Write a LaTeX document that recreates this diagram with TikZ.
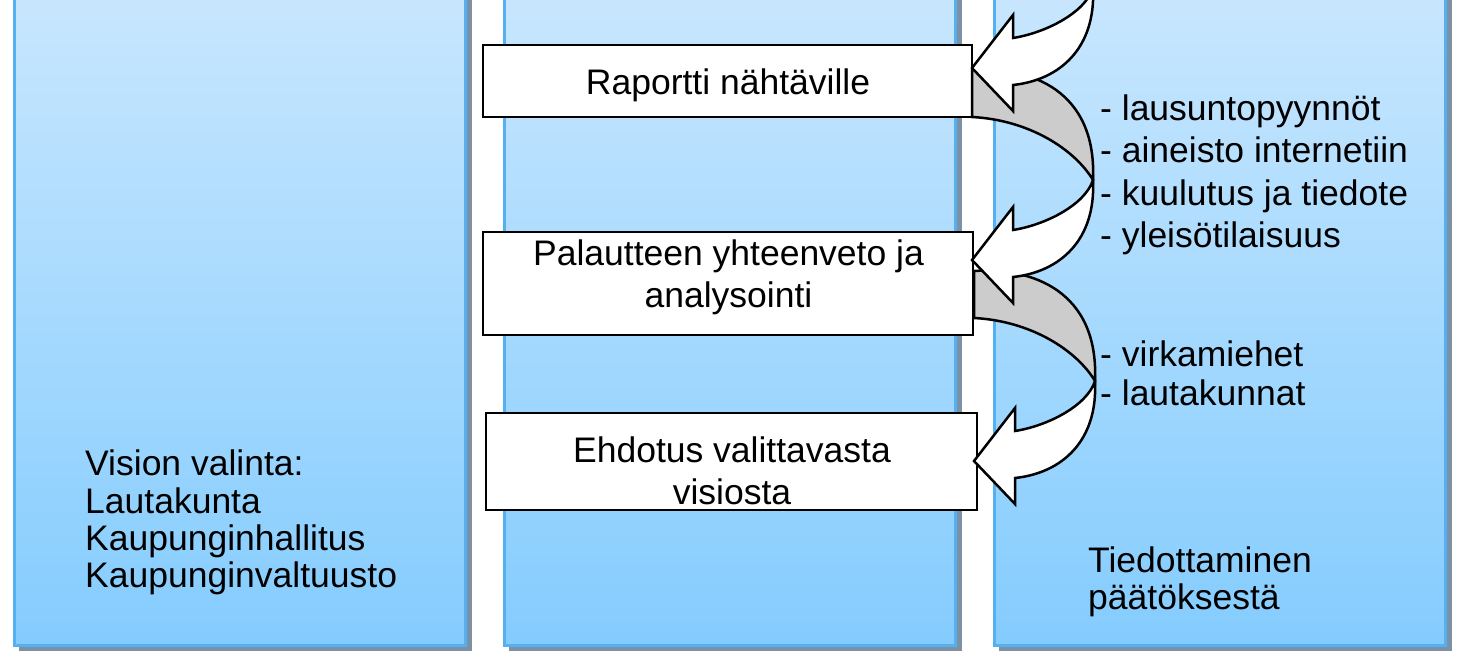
\documentclass[tikz,border=0pt]{standalone}
\usepackage{fontspec}
\setmainfont{Liberation Sans}
\definecolor{coltop}{RGB}{201,231,254}
\definecolor{colbot}{RGB}{132,204,254}
\definecolor{colborder}{RGB}{84,176,240}
\definecolor{shadowc}{RGB}{125,145,165}
\definecolor{ribgray}{RGB}{204,204,204}
\newcommand\ribback[2]{%
  \begin{scope}[shift={(#1,#2)}]
    \filldraw[rib, fill=ribgray] (972,70) .. controls (1030,66) and (1097,90) .. (1093,180)
      .. controls (1075,150) and (1030,120) .. (972,117) -- cycle;
  \end{scope}}
\newcommand\ribfront[2]{%
  \begin{scope}[shift={(#1,#2)}]
    \filldraw[rib, fill=white] (1093,180) .. controls (1096,240) and (1060,272) .. (1013,277)
      -- (1013,303) -- (972,260) -- (1013,207) -- (1013,230)
      .. controls (1045,225) and (1085,205) .. (1093,180) -- cycle;
  \end{scope}}
\begin{document}
\begin{tikzpicture}[x=1pt,y=-1pt,
  column/.style={draw=colborder, line width=3pt, top color=coltop, bottom color=colbot,
    minimum width=451pt, minimum height=662pt, inner sep=0pt},
  stepbox/.style={draw=black, fill=white, line width=2.5pt, inner sep=0pt},
  txt/.style={anchor=base west, inner sep=0pt, font=\fontsize{35.5}{42.6}\selectfont},
  ctxt/.style={anchor=base, inner sep=0pt, font=\fontsize{35.5}{42.6}\selectfont},
  rib/.style={draw=black, line width=2.5pt, line join=miter}]
\useasboundingbox (0,0) rectangle (1458,663);
\clip (0,0) rectangle (1458,663);
\fill[white] (0,0) rectangle (1458,663);
% shadows
\fill[shadowc] (19,-20) rectangle (472,651);
\fill[shadowc] (509,-20) rectangle (962,651);
\fill[shadowc] (999,-20) rectangle (1452,651);
% columns
\node[column] (c1) at (239.5,314) {};
\node[column] (c2) at (729.5,314) {};
\node[column] (c3) at (1219.5,314) {};
% boxes
\node[stepbox, minimum width=489pt, minimum height=72pt] (b1) at (727.5,81) {};
\node[stepbox, minimum width=490pt, minimum height=103pt] (b2) at (728,283.5) {};
\node[stepbox, minimum width=491pt, minimum height=97pt] (b3) at (731.5,461.5) {};
\node[ctxt] (b1a) at (728,95) {Raportti nähtäville};
\node[ctxt] (b2a) at (728.5,265) {Palautteen yhteenveto ja};
\node[ctxt] (b2b) at (728.5,307) {analysointi};
\node[ctxt] (b3a) at (732,462) {Ehdotus valittavasta};
\node[ctxt] (b3b) at (732,504) {visiosta};
% ribbons
\ribback{0}{-192}
\ribback{0}{0}
\ribback{2}{201}
\ribfront{0}{-192}
\ribfront{0}{0}
\ribfront{2}{201}
% texts
\node[txt] (l1) at (85,475) {Vision valinta:};
\node[txt] (l2) at (85,513) {Lautakunta};
\node[txt] (l3) at (85,550) {Kaupunginhallitus};
\node[txt] (l4) at (85,587) {Kaupunginvaltuusto};
\node[txt] (r1) at (1100,121) {- lausuntopyynnöt};
\node[txt] (r2) at (1100,163) {- aineisto internetiin};
\node[txt] (r3) at (1100,205) {- kuulutus ja tiedote};
\node[txt] (r4) at (1100,247) {- yleisötilaisuus};
\node[txt] (r5) at (1100,366) {- virkamiehet};
\node[txt] (r6) at (1100,405) {- lautakunnat};
\node[txt] (t1) at (1088,572) {Tiedottaminen};
\node[txt] (t2) at (1088,609) {päätöksestä};
\end{tikzpicture}
\end{document}
